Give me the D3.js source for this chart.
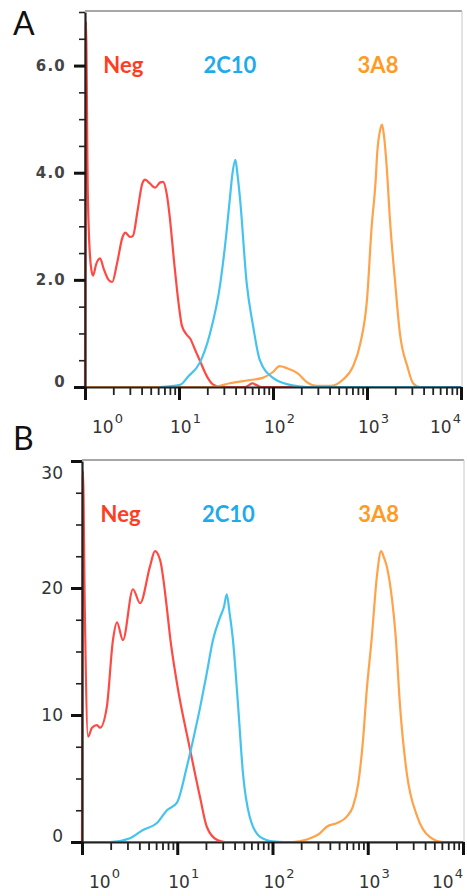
<!DOCTYPE html>
<html lang="en">
<head>
<meta charset="utf-8">
<title>Flow histograms A / B</title>
<script src="https://cdn.jsdelivr.net/npm/d3@7"></script>
<style>
body { margin: 0; background: #fff; }
svg { display: block; }
.tick text { font-family: "DejaVu Sans", sans-serif; }
</style>
</head>
<body>
<div id="container"></div>
<script>
var w = 467, h = 896;

// x values are log10(fluorescence), y values are counts
var decades = [1, 10, 100, 1000, 10000];
var seriesNames = ["Neg", "2C10", "3A8"];
var seriesColors = ["#ff4a44", "#45c3ef", "#ffa24a"];
var labelColors = ["#ff3d22", "#1eabea", "#ff9a22"];

// panel A
var yTicksA = [0, 2, 4, 6];
var yLabelsA = ["0", "2.0", "4.0", "6.0"];
var negA_x = [0, 0.01, 0.03, 0.06, 0.085, 0.12, 0.16, 0.2, 0.25, 0.29, 0.34, 0.4, 0.43, 0.48, 0.51, 0.56, 0.61, 0.64, 0.69, 0.745, 0.8, 0.83, 0.87, 0.9, 0.95, 1.0, 1.03, 1.08, 1.12, 1.17, 1.22, 1.3, 1.36, 1.45, 1.7, 1.75, 1.78, 1.82, 1.88, 2.0, 4.0];
var negA_y = [0, 6.82, 3.6, 2.3, 2.08, 2.3, 2.4, 2.2, 2.0, 1.96, 2.3, 2.8, 2.88, 2.8, 2.82, 3.3, 3.8, 3.87, 3.8, 3.72, 3.82, 3.83, 3.6, 3.2, 2.3, 1.5, 1.15, 0.98, 0.9, 0.7, 0.5, 0.19, 0.05, 0, 0, 0.04, 0.07, 0.04, 0, 0, 0];
var blueA_x = [0.8, 1.01, 1.1, 1.22, 1.33, 1.44, 1.5, 1.54, 1.57, 1.6, 1.62, 1.65, 1.72, 1.79, 1.86, 2.0, 2.18, 2.36, 4.0];
var blueA_y = [0, 0.04, 0.2, 0.45, 1.0, 1.94, 2.8, 3.5, 4.0, 4.24, 4.0, 3.5, 1.94, 1.12, 0.5, 0.17, 0.04, 0, 0];
var orangeA_x = [0, 1.36, 1.54, 1.76, 1.89, 2.0, 2.07, 2.15, 2.26, 2.36, 2.47, 2.61, 2.74, 2.85, 2.93, 3.0, 3.05, 3.09, 3.11, 3.14, 3.16, 3.18, 3.21, 3.245, 3.3, 3.35, 3.43, 3.49, 3.56, 4.0];
var orangeA_y = [0, 0, 0.07, 0.13, 0.17, 0.28, 0.39, 0.35, 0.26, 0.09, 0.02, 0.02, 0.13, 0.38, 0.82, 1.63, 3.0, 3.8, 4.4, 4.8, 4.9, 4.7, 4.1, 3.1, 1.94, 1.0, 0.38, 0.07, 0, 0];

// panel B
var yTicksB = [0, 10, 20, 30];
var yLabelsB = ["0", "10", "20", "30"];
var negB_x = [0, 0.01, 0.03, 0.063, 0.105, 0.157, 0.19, 0.26, 0.325, 0.367, 0.43, 0.535, 0.61, 0.714, 0.766, 0.82, 0.89, 0.924, 0.997, 1.134, 1.24, 1.31, 1.42, 1.5, 4.0];
var negB_y = [0, 29.2, 18, 8.3, 9.0, 9.2, 9.0, 10.6, 15.9, 17.3, 15.9, 19.9, 18.8, 21.7, 22.9, 22.2, 18.5, 16.2, 12.5, 7.3, 3.5, 1.2, 0.15, 0, 0];
var blueB_x = [0, 0.294, 0.504, 0.64, 0.787, 0.892, 0.997, 1.1, 1.165, 1.24, 1.31, 1.375, 1.45, 1.49, 1.52, 1.55, 1.585, 1.64, 1.69, 1.76, 1.87, 2.0, 2.13, 4.0];
var blueB_y = [0, 0, 0.3, 0.95, 1.5, 2.5, 3.1, 5.9, 8.0, 10.6, 13.3, 15.9, 17.7, 18.5, 19.5, 18, 15.9, 10.6, 5.4, 2.0, 0.4, 0.05, 0, 0];
var orangeB_x = [0, 2.215, 2.36, 2.5, 2.57, 2.68, 2.78, 2.845, 2.9, 2.95, 2.99, 3.04, 3.1, 3.14, 3.17, 3.2, 3.255, 3.29, 3.34, 3.41, 3.52, 3.65, 3.79, 4.0];
var orangeB_y = [0, 0, 0.2, 0.7, 1.2, 1.5, 2.0, 2.8, 4.6, 8.0, 12.0, 15.9, 21.2, 22.9, 22.4, 21.7, 19.1, 16.5, 10.6, 5.4, 2.0, 0.4, 0, 0];

function pairs(xs, ys) { return xs.map(function(x, i) { return [Math.pow(10, x), ys[i]]; }); }

var panels = [
  { name: "A", left: 85, right: 461, top: 12, bottom: 387, ymax: 7, minorStep: 0.5,
    yTicks: yTicksA, yLabels: yLabelsA, boldY: true, nameY: 35, legendY: 73,
    series: [pairs(negA_x, negA_y), pairs(blueA_x, blueA_y), pairs(orangeA_x, orangeA_y)] },
  { name: "B", left: 82, right: 463, top: 461, bottom: 842, ymax: 30, minorStep: 2.5,
    yTicks: yTicksB, yLabels: yLabelsB, boldY: false, nameY: 450, legendY: 522,
    series: [pairs(negB_x, negB_y), pairs(blueB_x, blueB_y), pairs(orangeB_x, orangeB_y)] }
];

var svg = d3.select("#container").append("svg")
  .attr("width", w).attr("height", h);

var minorX = [];
[1, 10, 100, 1000].forEach(function(d) { for (var k = 2; k < 10; k++) minorX.push(k * d); });

panels.forEach(function(p) {
  var g = svg.append("g");
  var x = d3.scaleLog().domain([1, 10000]).range([p.left, p.right]);
  var y = d3.scaleLinear().domain([0, p.ymax]).range([p.bottom, p.top]);

  // frame (top + right)
  g.append("line").attr("x1", p.left).attr("x2", p.right + 1).attr("y1", p.top - 1).attr("y2", p.top - 1)
    .attr("stroke", "#8a8a8a").attr("stroke-width", 1.5);
  g.append("line").attr("x1", p.right + 1).attr("x2", p.right + 1).attr("y1", p.top - 1).attr("y2", p.bottom)
    .attr("stroke", "#c8c8c8").attr("stroke-width", 1);

  // curves: red, orange, blue
  var line = d3.line().curve(d3.curveMonotoneX)
    .x(function(d) { return x(d[0]); }).y(function(d) { return y(d[1]); });
  [0, 2, 1].forEach(function(i) {
    g.append("path").datum(p.series[i]).attr("d", line)
      .attr("fill", "none").attr("stroke", seriesColors[i]).attr("stroke-width", 2.2)
      .attr("stroke-linejoin", "round");
  });

  // y axis
  var yMinor = d3.range(0, p.ymax + 0.001, p.minorStep).filter(function(v) { return p.yTicks.indexOf(v) < 0; });
  g.append("g").attr("transform", "translate(" + p.left + ",0)")
    .call(d3.axisLeft(y).tickValues(yMinor).tickSize(6).tickFormat(""))
    .call(function(a) { a.select(".domain").remove(); a.selectAll("line").attr("stroke", "#222").attr("stroke-width", 1.6); });
  var ya = g.append("g").attr("transform", "translate(" + p.left + ",0)")
    .call(d3.axisLeft(y).tickValues(p.yTicks).tickSize(11).tickSizeOuter(0).tickPadding(8)
      .tickFormat(function(d, i) { return p.yLabels[i]; }));
  ya.select(".domain").attr("stroke", "#222").attr("stroke-width", 2.2);
  ya.selectAll("line").attr("stroke", "#111").attr("stroke-width", 3);
  ya.selectAll("text")
    .attr("fill", p.boldY ? "#444" : "#333")
    .attr("font-size", p.boldY ? 15 : 17)
    .attr("font-weight", p.boldY ? "bold" : "normal")
    .attr("letter-spacing", p.boldY ? 1.2 : 0)
    .attr("dy", function(d, i) {
      if (i === 0) return "-0.05em";
      if (!p.boldY && i === p.yTicks.length - 1) return "1.05em";
      return "0.32em";
    });

  // x axis
  g.append("g").attr("transform", "translate(0," + p.bottom + ")")
    .call(d3.axisBottom(x).tickValues(minorX).tickSize(8).tickFormat(""))
    .call(function(a) { a.select(".domain").remove(); a.selectAll("line").attr("stroke", "#222").attr("stroke-width", 1.8); });
  var xa = g.append("g").attr("transform", "translate(0," + p.bottom + ")")
    .call(d3.axisBottom(x).tickValues(decades).tickSize(13).tickSizeOuter(0).tickFormat(""));
  xa.select(".domain").attr("stroke", "#222").attr("stroke-width", 2.2);
  xa.selectAll("line").attr("stroke", "#111").attr("stroke-width", 3);

  decades.forEach(function(d, i) {
    var dx = i === 0 ? 7 : (i === decades.length - 1 ? -31 : -9);
    var t = g.append("text")
      .attr("x", x(d) + dx).attr("y", p.bottom + 46)
      .attr("font-family", "DejaVu Sans, sans-serif").attr("font-size", 17).attr("fill", "#333");
    t.append("tspan").text("10");
    t.append("tspan").attr("dy", -10).attr("dx", 1).attr("font-size", 13).text(String(i));
  });

  // series labels
  var legendX = d3.scalePoint().domain(seriesNames).range([0, 0]);
  var legendPos = [Math.pow(10, 0.195), Math.pow(10, 1.26), Math.pow(10, 2.9)];
  seriesNames.forEach(function(n, i) {
    g.append("text").attr("x", x(legendPos[i])).attr("y", p.legendY)
      .attr("font-family", "Lato, sans-serif").attr("font-weight", "bold").attr("font-size", 22)
      .attr("fill", labelColors[i]).text(n);
  });

  // panel letter
  g.append("text").attr("x", 13).attr("y", p.nameY)
    .attr("font-family", "Lato, sans-serif").attr("font-size", 32).attr("fill", "#111").text(p.name);
});
</script>
</body>
</html>
